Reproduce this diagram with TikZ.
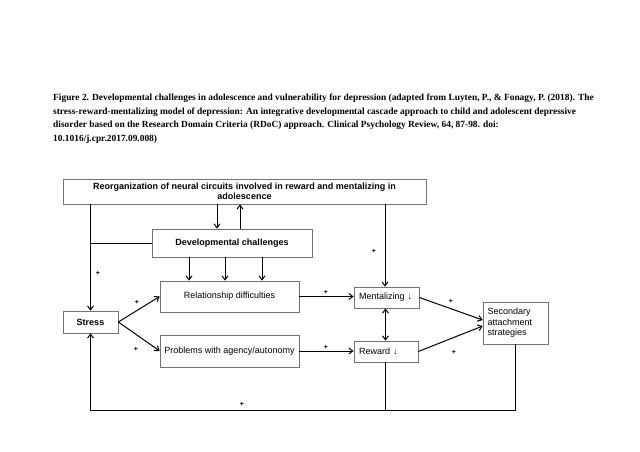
\documentclass[tikz,border=0pt]{standalone}
\usepackage{fontspec}
\setmainfont{Liberation Serif}
\setsansfont{Liberation Sans}
\usetikzlibrary{arrows.meta}
\begin{document}
\begin{tikzpicture}[x=1pt,y=-1pt,
  box/.style={draw=black!55,line width=0.7pt,inner sep=0pt,font=\sffamily\fontsize{9}{10.5}\selectfont,align=center},
  boldbox/.style={box,font=\sffamily\bfseries\fontsize{9}{10.5}\selectfont},
  arr/.style={line width=1pt,-{Straight Barb[length=4pt,width=6pt]}},
  ln/.style={line width=1pt},
  plus/.style={font=\sffamily\bfseries\fontsize{7}{7}\selectfont,inner sep=0pt}]
\useasboundingbox (0,0) rectangle (640,452);
\node[anchor=north west,inner sep=0pt,align=left,font=\bfseries\fontsize{9.4}{13.4}\selectfont] (cap) at (53,94)
 {Figure 2. Developmental challenges in adolescence and vulnerability for depression (adapted from Luyten, P., \& Fonagy, P. (2018). The\\
 stress-reward-mentalizing model of depression: An integrative developmental cascade approach to child and adolescent depressive\\
 disorder based on the Research Domain Criteria (RDoC) approach. Clinical Psychology Review, 64, 87-98. doi:\\
 10.1016/j.cpr.2017.09.008)};

\node[boldbox,minimum width=363pt,minimum height=25pt] (top) at (244.5,191.5)
 {Reorganization of neural circuits involved in reward and mentalizing in\\adolescence};
\node[boldbox,minimum width=160pt,minimum height=28pt] (dev) at (232,243) {Developmental challenges};
\node[boldbox,minimum width=55pt,minimum height=22pt] (stress) at (90.5,322) {Stress};
\node[box,minimum width=139pt,minimum height=31pt] (rel) at (229.5,296.5) {\raisebox{2pt}{Relationship difficulties}};
\node[box,minimum width=139pt,minimum height=32pt] (prob) at (229.5,351) {Problems with agency/autonomy};
\node[box,minimum width=65pt,minimum height=21pt,align=left,text width=55pt] (ment) at (386.5,297.5) {Mentalizing ↓};
\node[box,minimum width=64pt,minimum height=21pt,align=left,text width=54pt] (rew) at (386,351.5) {Reward ↓};
\node[box,minimum width=65pt,minimum height=42pt,align=left,text width=56pt] (sec) at (515.5,323) {Secondary\\attachment\\strategies};
\coordinate (bl) at (90.5,410);

\draw[arr] ([xshift=-15pt]dev.north |- top.south) -- ([xshift=-15pt]dev.north);
\draw[arr] ([xshift=8pt]dev.north) -- ([xshift=8pt]dev.north |- top.south);
\draw[arr] (stress.north |- top.south) -- (stress.north);
\draw[ln] (dev.west) -- (dev.west -| stress.north);
\foreach \dx in {-43,-7,30}
  \draw[arr] ([xshift=\dx pt]dev.south) -- ([xshift=\dx pt]dev.south |- rel.north);
\draw[arr] (stress.east) -- (rel.west);
\draw[arr] (stress.east) -- (prob.west);
\draw[arr] (rel.east) -- (rel.east -| ment.west);
\draw[arr] (prob.east) -- (prob.east -| rew.west);
\draw[arr] ([xshift=-1.5pt]ment.north |- top.south) -- ([xshift=-1.5pt]ment.north);
\draw[line width=1pt,{Straight Barb[length=4pt,width=6pt]}-{Straight Barb[length=4pt,width=6pt]}] ([xshift=-1pt]ment.south) -- ([xshift=-1pt]ment.south |- rew.north);
\draw[arr] (ment.east) -- ([yshift=3pt]sec.west);
\draw[arr] (rew.east) -- ([yshift=-3pt]sec.west);
\draw[ln] ([xshift=-1pt]rew.south) -- ([xshift=-1pt]rew.south |- bl);
\draw[arr] (sec.south) -- (sec.south |- bl) -- (bl) -- (stress.south);

\node[plus] (p1) at (98,273) {+};
\node[plus] (p2) at (137,302) {+};
\node[plus] (p3) at (136,349) {+};
\node[plus] (p4) at (326,292) {+};
\node[plus] (p5) at (326,347) {+};
\node[plus] (p6) at (374,251) {+};
\node[plus] (p7) at (451,301) {+};
\node[plus] (p8) at (454,352) {+};
\node[plus] (p9) at (242,404) {+};
\end{tikzpicture}
\end{document}
